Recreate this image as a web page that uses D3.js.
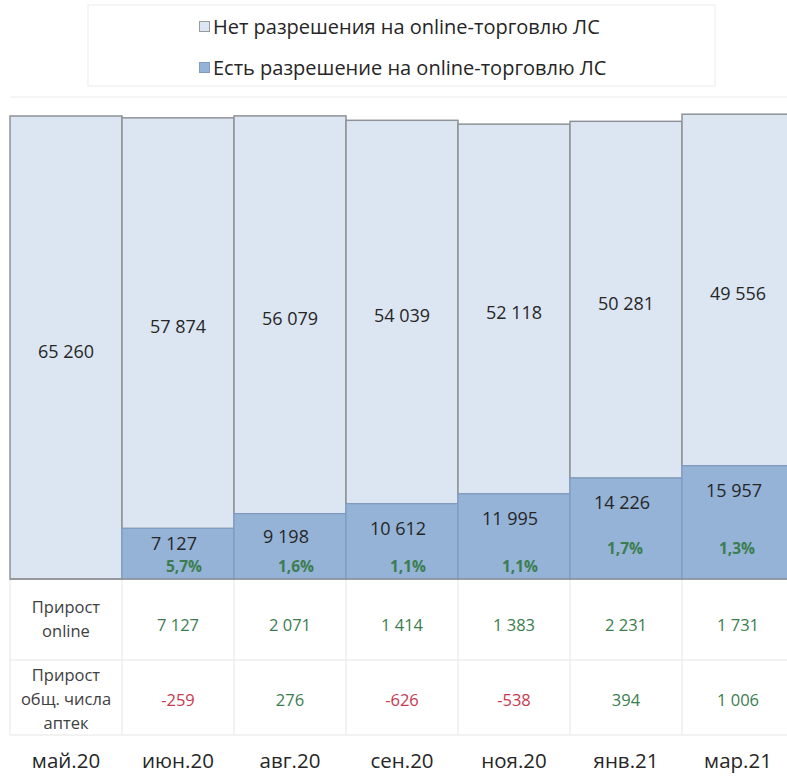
<!DOCTYPE html>
<html>
<head>
<meta charset="utf-8">
<script src="https://cdn.jsdelivr.net/npm/d3@7"></script>
<style>
  body { margin: 0; background: #fff; }
  svg { display: block; font-family: "Open Sans", sans-serif; }
</style>
</head>
<body>
<div id="chart"></div>
<script>
// data
var months = ["май.20", "июн.20", "авг.20", "сен.20", "ноя.20", "янв.21", "мар.21"];
var noPermit = [65260, 57874, 56079, 54039, 52118, 50281, 49556];
var withPermit = [0, 7127, 9198, 10612, 11995, 14226, 15957];
var permitShare = ["", "5,7%", "1,6%", "1,1%", "1,1%", "1,7%", "1,3%"];
var onlineGrowth = [null, 7127, 2071, 1414, 1383, 2231, 1731];
var totalGrowth = [null, -259, 276, -626, -538, 394, 1006];
var legendLabels = ["Нет разрешения на online-торговлю ЛС", "Есть разрешение на online-торговлю ЛС"];
var rowHeaders = [["Прирост", "online"], ["Прирост", "общ. числа", "аптек"]];

var W = 787, H = 777;
var base = 579;
var colors = { light: "#dce6f2", lightStroke: "#8f9296", blue: "#95b3d7", blueStroke: "#7f9cc2",
               text: "#262626", green: "#3b7d4f", red: "#c8384f", grid: "#e6e6e6" };

var fmt = function(v) { return d3.format(",")(v).replace(/,/g, " ").replace("\u2212", "-"); };

var svg = d3.select("#chart").append("svg").attr("width", W).attr("height", H);

var x = d3.scaleBand().domain(months).range([10, 10 + 112 * months.length]).padding(0);
var y = d3.scaleLinear().domain([0, 65260]).range([base, 116]);

var rows = months.map(function(m, i) {
  return { m: m, i: i, a: withPermit[i], b: noPermit[i], total: withPermit[i] + noPermit[i] };
});

// frames
svg.append("rect").attr("x", 88).attr("y", 5).attr("width", 627).attr("height", 81)
  .attr("fill", "none").attr("stroke", "#ececec");
svg.append("line").attr("x1", 10).attr("x2", W).attr("y1", 97).attr("y2", 97)
  .attr("stroke", "#ececec");

// legend
var legend = svg.append("g");
legendLabels.forEach(function(t, i) {
  var ly = 27 + i * 41;
  legend.append("rect").attr("x", 199.5).attr("y", ly - 5.5).attr("width", 10).attr("height", 10)
    .attr("fill", i === 0 ? colors.light : colors.blue)
    .attr("stroke", i === 0 ? "#9a9a9a" : colors.blueStroke);
  legend.append("text").attr("x", 213).attr("y", ly).attr("dy", "0.35em")
    .attr("font-size", 20).attr("fill", colors.text).text(t);
});

// table grid
var tbl = svg.append("g").attr("stroke", colors.grid).attr("fill", "none");
tbl.append("line").attr("x1", 10).attr("x2", W).attr("y1", 660).attr("y2", 660);
tbl.append("line").attr("x1", 10).attr("x2", W).attr("y1", 735).attr("y2", 735);
tbl.append("line").attr("x1", 10).attr("x2", 10).attr("y1", base).attr("y2", 735);
months.slice(1).forEach(function(m) {
  tbl.append("line").attr("x1", x(m)).attr("x2", x(m)).attr("y1", base).attr("y2", 735);
});

// bars
var bars = svg.append("g");
bars.selectAll("rect.light").data(rows).enter().append("rect").attr("class", "light")
  .attr("x", function(d) { return x(d.m); })
  .attr("width", x.bandwidth())
  .attr("y", function(d) { return y(d.total); })
  .attr("height", function(d) { return y(d.a) - y(d.total); })
  .attr("fill", colors.light).attr("stroke", colors.lightStroke).attr("stroke-width", 1.5);

bars.selectAll("rect.blue").data(rows.filter(function(d) { return d.a > 0; })).enter()
  .append("rect").attr("class", "blue")
  .attr("x", function(d) { return x(d.m); })
  .attr("width", x.bandwidth())
  .attr("y", function(d) { return y(d.a); })
  .attr("height", function(d) { return y(0) - y(d.a); })
  .attr("fill", colors.blue).attr("stroke", colors.blueStroke).attr("stroke-width", 1.2);

svg.append("line").attr("x1", 10).attr("x2", W).attr("y1", base).attr("y2", base)
  .attr("stroke", colors.lightStroke).attr("stroke-width", 1.5);

// labels
var cx = function(d) { return x(d.m) + x.bandwidth() / 2; };
var labels = svg.append("g").attr("text-anchor", "middle");

labels.selectAll("text.lb").data(rows).enter().append("text")
  .attr("x", cx)
  .attr("y", function(d) { return (y(d.total) + y(d.a)) / 2 + 4; })
  .attr("dy", "0.35em").attr("font-size", 18).attr("fill", colors.text)
  .text(function(d) { return fmt(d.b); });

var blueRows = rows.filter(function(d) { return d.a > 0; });
labels.selectAll("text.bb").data(blueRows).enter().append("text")
  .attr("x", function(d) { return cx(d) - 4; })
  .attr("y", function(d) { return Math.min(y(d.a) + 25, (y(d.a) + base) / 2 - 10); })
  .attr("dy", "0.35em").attr("font-size", 18).attr("fill", colors.text)
  .text(function(d) { return fmt(d.a); });

labels.selectAll("text.pc").data(blueRows).enter().append("text")
  .attr("x", function(d) { return cx(d) + (d.i < 5 ? 6 : -1); })
  .attr("y", function(d) { return base - (d.i < 5 ? 12 : 30); })
  .attr("dy", "0.35em").attr("font-size", 15.5).attr("font-weight", "bold")
  .attr("fill", colors.green)
  .text(function(d) { return permitShare[d.i]; });

// table contents
var colColor = function(v) { return v < 0 ? colors.red : colors.green; };
rowHeaders.forEach(function(lines, r) {
  var top = r === 0 ? 607 : 675;
  lines.forEach(function(l, k) {
    labels.append("text").attr("x", x(months[0]) + x.bandwidth() / 2).attr("y", top + k * 24)
      .attr("dy", "0.35em").attr("font-size", 16.5).attr("fill", "#404040").text(l);
  });
});
labels.selectAll("text.g1").data(rows.filter(function(d) { return onlineGrowth[d.i] !== null; }))
  .enter().append("text")
  .attr("x", cx).attr("y", 625).attr("dy", "0.35em").attr("font-size", 16.5)
  .attr("fill", function(d) { return colColor(onlineGrowth[d.i]); })
  .text(function(d) { return fmt(onlineGrowth[d.i]); });
labels.selectAll("text.g2").data(rows.filter(function(d) { return totalGrowth[d.i] !== null; }))
  .enter().append("text")
  .attr("x", cx).attr("y", 700).attr("dy", "0.35em").attr("font-size", 16.5)
  .attr("fill", function(d) { return colColor(totalGrowth[d.i]); })
  .text(function(d) { return fmt(totalGrowth[d.i]); });

// month axis
var xAxis = d3.axisBottom(x).tickSize(0).tickPadding(0);
var ax = svg.append("g").attr("transform", "translate(0,753)").call(xAxis);
ax.select(".domain").remove();
ax.selectAll("text").attr("font-size", 20.5).attr("fill", colors.text)
  .attr("font-family", "Open Sans, sans-serif");
</script>
</body>
</html>
